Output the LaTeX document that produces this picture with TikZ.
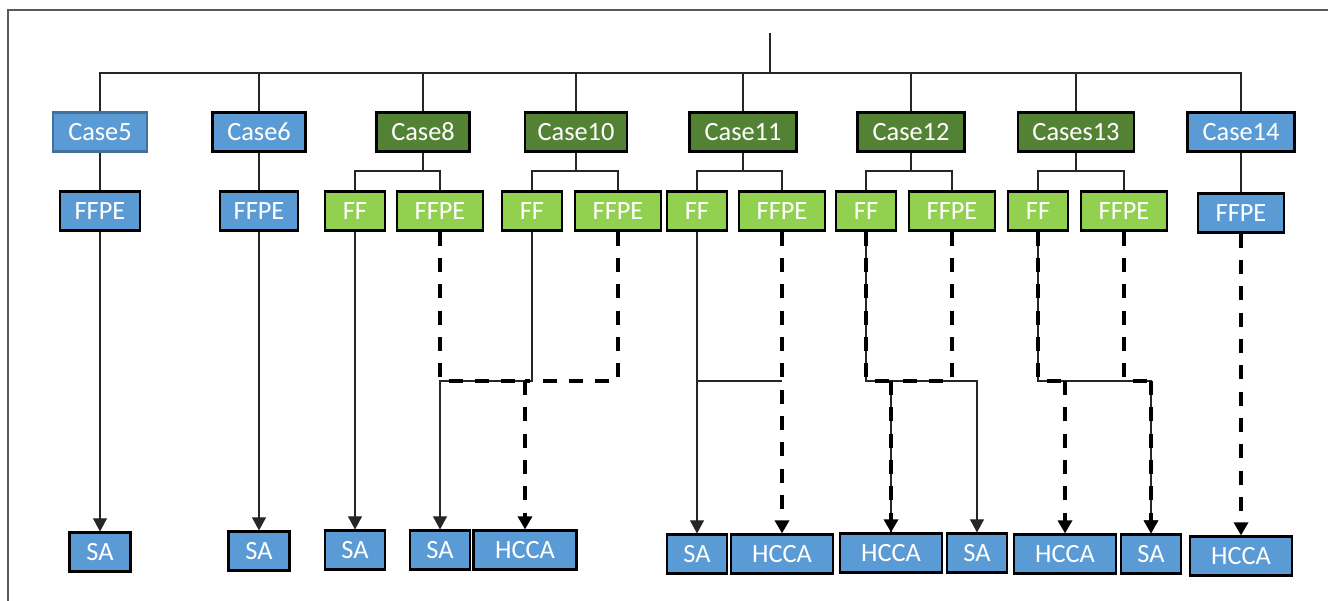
\documentclass[tikz,border=0pt]{standalone}
\usepackage{fontspec}
\setmainfont{Carlito}
\usepackage{xcolor}
\usepackage{tikz}
\usetikzlibrary{arrows.meta}
\usetikzlibrary{calc}
\usetikzlibrary{positioning}
\definecolor{caseblue}{HTML}{5B9BD5}
\definecolor{casegreen}{HTML}{548235}
\definecolor{samplegreen}{HTML}{92D050}
\definecolor{edgeblue}{HTML}{41719C}
\definecolor{framegray}{HTML}{595959}

\begin{document}
\begin{tikzpicture}[x=0.02cm,y=-0.02cm,semithick]
 \tikzstyle{box}=[draw=black, line width=1.2pt, text=white, minimum height=0.78cm, inner sep=0pt, font=\fontsize{15}{18}\selectfont]
 \tikzstyle{blue box}=[box, fill=caseblue]
 \tikzstyle{case box}=[box, fill=casegreen]
 \tikzstyle{ff box}=[box, fill=samplegreen]
 \tikzstyle{tree}=[-, line width=0.6pt, draw=black!85]
 \tikzstyle{solid arrow}=[tree, -{Triangle[length=7.5pt,width=8pt]}]
 \tikzstyle{dashed link}=[-, line width=2.1pt, dash pattern=on 8pt off 7pt]
 \tikzstyle{dashed arrow}=[dashed link, -{Triangle[length=7.5pt,width=8pt]}]
 \useasboundingbox (0,0) rectangle (1328,601);
 \draw[framegray, line width=1pt] (1328,10) -- (8,10) -- (8,601);
 \coordinate (top) at (770,33);
 \coordinate (bar) at (770,73);
 \coordinate (split) at (0,171);
 \coordinate (join) at (0,381);
			\node[blue box, draw=edgeblue, minimum width=1.88cm] (c5) at (100,132) {Case5};
			\node[blue box, minimum width=1.86cm] (c6) at (259,132) {Case6};
			\node[case box, minimum width=1.86cm] (c8) at (423,132) {Case8};
			\node[case box, minimum width=2.04cm] (c10) at (576,132) {Case10};
			\node[case box, minimum width=2.14cm] (c11) at (743,132) {Case11};
			\node[case box, minimum width=2.14cm] (c12) at (911,132) {Case12};
			\node[case box, minimum width=2.32cm] (c13) at (1076,132) {Cases13};
			\node[blue box, minimum width=2.14cm] (c14) at (1241,132) {Case14};
			\node[blue box, minimum width=1.6cm] (ffpe5) at (100,211) {FFPE};
			\node[blue box, minimum width=1.56cm] (ffpe6) at (259,211) {FFPE};
			\node[ff box, minimum width=1.2cm] (ff8) at (355,211) {FF};
			\node[ff box, minimum width=1.72cm] (ffpe8) at (440,211) {FFPE};
			\node[ff box, minimum width=1.2cm] (ff10) at (532,211) {FF};
			\node[ff box, minimum width=1.72cm] (ffpe10) at (618,211) {FFPE};
			\node[ff box, minimum width=1.2cm] (ff11) at (697,211) {FF};
			\node[ff box, minimum width=1.72cm] (ffpe11) at (782,211) {FFPE};
			\node[ff box, minimum width=1.2cm] (ff12) at (866,211) {FF};
			\node[ff box, minimum width=1.72cm] (ffpe12) at (952,211) {FFPE};
			\node[ff box, minimum width=1.2cm] (ff13) at (1038,211) {FF};
			\node[ff box, minimum width=1.72cm] (ffpe13) at (1124,211) {FFPE};
			\node[blue box, minimum width=1.72cm] (ffpe14) at (1241,213) {FFPE};
			\node[blue box, minimum width=1.22cm] (sa5) at (100,552) {SA};
			\node[blue box, minimum width=1.22cm] (sa6) at (259,551) {SA};
			\node[blue box, minimum width=1.2cm] (sa8) at (355,550) {SA};
			\node[blue box, minimum width=1.2cm] (sa10) at (440,550) {SA};
			\node[blue box, minimum width=2.06cm] (hcca10) at (525,550) {HCCA};
			\node[blue box, minimum width=1.2cm] (sa11) at (697,554) {SA};
			\node[blue box, minimum width=2.04cm] (hcca11) at (782,554) {HCCA};
			\node[blue box, minimum width=2.04cm] (hcca12) at (891,553) {HCCA};
			\node[blue box, minimum width=1.2cm] (sa12) at (977,553) {SA};
			\node[blue box, minimum width=2.04cm] (hcca13) at (1065,554) {HCCA};
			\node[blue box, minimum width=1.2cm] (sa13) at (1151,554) {SA};
			\node[blue box, minimum width=2.04cm] (hcca14) at (1241,556) {HCCA};
 \draw[tree] (top) -- (bar);
 \draw[tree] (c5.north) |- (bar) -| (c14.north);
 \foreach \n in {c6,c8,c10,c11,c12,c13}
   \draw[tree] (\n.north) -- (\n.north |- bar);
 \draw[tree] (c5.south) -- (ffpe5.north);
 \draw[tree] (c6.south) -- (ffpe6.north);
 \draw[tree] (c14.south) -- (ffpe14.north);
 \foreach \i in {8,10,11,12,13}{
   \draw[tree] (c\i.south) -- (c\i.south |- split);
   \draw[tree] (ff\i.north) |- (c\i.south |- split) -| (ffpe\i.north);
 }
 \draw[solid arrow] (ffpe5.south) -- (sa5.north);
 \draw[solid arrow] (ffpe6.south) -- (sa6.north);
 \draw[solid arrow] (ff8.south) -- (sa8.north);
 \draw[solid arrow] (ff10.south) |- (sa10.north |- join) -- (sa10.north);
 \draw[dashed link] (ffpe8.south) |- (hcca10.north |- join);
 \draw[dashed link] (ffpe10.south) |- (hcca10.north |- join);
 \draw[dashed arrow] (hcca10.north |- join) -- (hcca10.north);
 \draw[solid arrow] (ff11.south) -- (sa11.north);
 \draw[tree] (ff11.south |- join) -- (ffpe11.south |- join);
 \draw[dashed arrow] (ffpe11.south) -- (hcca11.north);
 \draw[solid arrow] (ff12.south) |- (sa12.north |- join) -- (sa12.north);
 \draw[tree, line width=1.2pt] (hcca12.north |- join) -- (hcca12.north);
 \draw[dashed link] (ff12.south) |- (hcca12.north |- join);
 \draw[dashed link] (ffpe12.south) |- (hcca12.north |- join);
 \draw[dashed arrow] (hcca12.north |- join) -- (hcca12.north);
 \draw[solid arrow] (ff13.south) |- (sa13.north |- join) -- (sa13.north);
 \draw[dashed link] (ff13.south) |- (hcca13.north |- join);
 \draw[dashed arrow] (hcca13.north |- join) -- (hcca13.north);
 \draw[dashed link] (ffpe13.south) |- (sa13.north |- join);
 \draw[dashed arrow] (sa13.north |- join) -- (sa13.north);
 \draw[dashed arrow] (ffpe14.south) -- (hcca14.north);
\end{tikzpicture}
\end{document}
